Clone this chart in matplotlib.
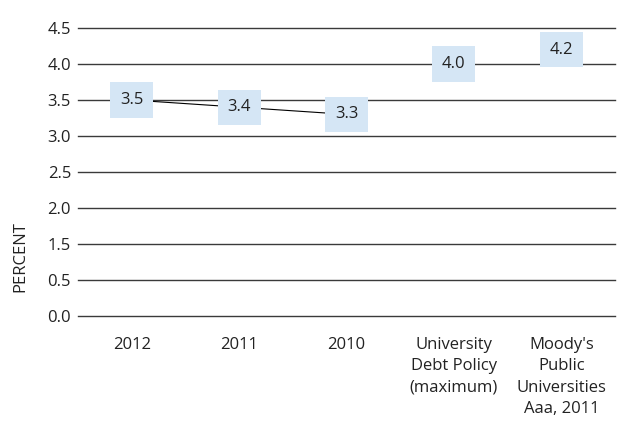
import numpy as np
import matplotlib
matplotlib.use('Agg')
import matplotlib.pyplot as plt

plt.rcParams['font.family'] = ['Open Sans', 'DejaVu Sans']

# Debt service ratios and the benchmarks they are compared against
categories = ['2012', '2011', '2010',
              'University\nDebt Policy\n(maximum)',
              "Moody's\nPublic\nUniversities\nAaa, 2011"]
values = [3.5, 3.4, 3.3, 4.0, 4.2]
n_trend = 3  # the yearly values are joined by a line
ytick_values = [0.0, 0.5, 1.5, 2.0, 2.5, 3.0, 3.5, 4.0, 4.5]


# the axis skips 1.0: the 0.5-1.5 band is squeezed into half a step
def squeeze(v):
    v = np.asarray(v, dtype=float)
    return np.where(v <= 0.5, v, np.where(v < 1.5, 0.5 + (v - 0.5) / 2, v - 0.5))


def unsqueeze(u):
    u = np.asarray(u, dtype=float)
    return np.where(u <= 0.5, u, np.where(u < 1.0, 0.5 + 2 * (u - 0.5), u + 0.5))


fig = plt.figure(figsize=(6.17, 4.21), dpi=100)
ax = fig.add_axes([0.1264, 0.2494, 0.8704, 0.6841])
ax.set_yscale('function', functions=(squeeze, unsqueeze))

x = np.arange(len(categories))
ax.plot(x[:n_trend], values[:n_trend], color='black', lw=0.8, zorder=2)

for xi, v in zip(x, values):
    ax.text(xi, v, f'{v:.1f}', ha='center', va='center', fontsize=12,
            color='#222222', zorder=3,
            bbox=dict(boxstyle='square,pad=0.58', fc='#d5e6f5', ec='none'))

ax.set_xlim(-0.5, len(categories) - 0.5)
ax.set_ylim(0, 4.5)
ax.set_yticks(ytick_values)
ax.set_yticklabels([f'{t:.1f}' for t in ytick_values])
ax.set_xticks(x)
ax.set_xticklabels(categories, linespacing=1.45)

ax.grid(axis='y', color='#3a3a3a', lw=1.0)
for gl in ax.get_ygridlines():
    gl.set_clip_on(False)
ax.set_axisbelow(True)
for s in ax.spines.values():
    s.set_visible(False)
ax.tick_params(axis='y', length=0, pad=5, labelsize=12, labelcolor='#222222')
ax.tick_params(axis='x', length=0, pad=15, labelsize=12, labelcolor='#222222')

ax.set_ylabel('PERCENT', fontsize=12, color='#222222')
ax.yaxis.set_label_coords(-0.093, 0.208)

fig.savefig('out.png', dpi=100)
